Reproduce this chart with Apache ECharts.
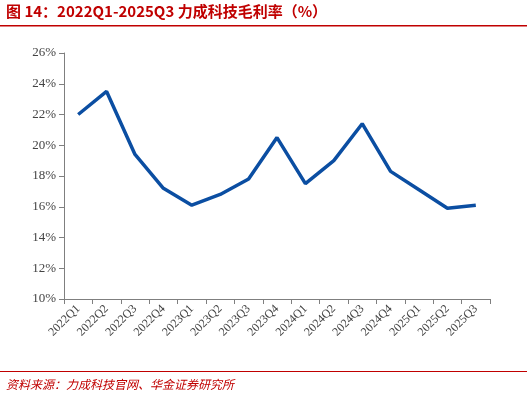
<!DOCTYPE html><html><head><meta charset="utf-8">
<script src="https://cdn.jsdelivr.net/npm/echarts@6/dist/echarts.min.js"></script>
<style>html,body{margin:0;padding:0;background:#fff}#c{width:527px;height:401px}</style></head><body><div id="c"></div>
<script>
const categories=['2022Q1','2022Q2','2022Q3','2022Q4','2023Q1','2023Q2','2023Q3','2023Q4','2024Q1','2024Q2','2024Q3','2024Q4','2025Q1','2025Q2','2025Q3'];
const margin=[22.0,23.5,19.4,17.2,16.1,16.8,17.8,20.5,17.5,19.0,21.4,18.3,17.1,15.9,16.1];
const chart=echarts.init(document.getElementById('c'));
chart.setOption({
 animation:false,
 graphic:[
  {type:'text',left:6,top:4,style:{text:'图 14：2022Q1-2025Q3 力成科技毛利率（%）',fill:'#c00000',font:'bold 15px "Noto Sans CJK SC"'}},
  {type:'rect',shape:{x:0,y:25,width:527,height:1.5},style:{fill:'#c00000'}},
  {type:'rect',shape:{x:0,y:371,width:527,height:1},style:{fill:'#c00000'}},
  {type:'text',left:6,top:378,style:{text:'资料来源：力成科技官网、华金证券研究所',fill:'#c00000',font:'italic 12px "Noto Sans CJK SC"'}}
 ],
 grid:{left:64,right:37,top:53,bottom:102},
 xAxis:{type:'category',data:categories,boundaryGap:true,
  axisLine:{lineStyle:{color:'#7f7f7f'}},axisTick:{show:true,lineStyle:{color:'#7f7f7f'}},
  axisLabel:{rotate:45,color:'#444',fontSize:12,fontFamily:'Liberation Serif',interval:0,margin:8}},
 yAxis:{type:'value',min:10,max:26,interval:2,
  axisLine:{show:true,lineStyle:{color:'#7f7f7f'}},axisTick:{show:true,lineStyle:{color:'#7f7f7f'}},splitLine:{show:false},
  axisLabel:{formatter:'{value}%',color:'#444',fontSize:13,fontFamily:'Liberation Serif'}},
 series:[{type:'line',data:margin,symbol:'none',lineStyle:{color:'#0b4ea2',width:3.5}}]
});
</script></body></html>
